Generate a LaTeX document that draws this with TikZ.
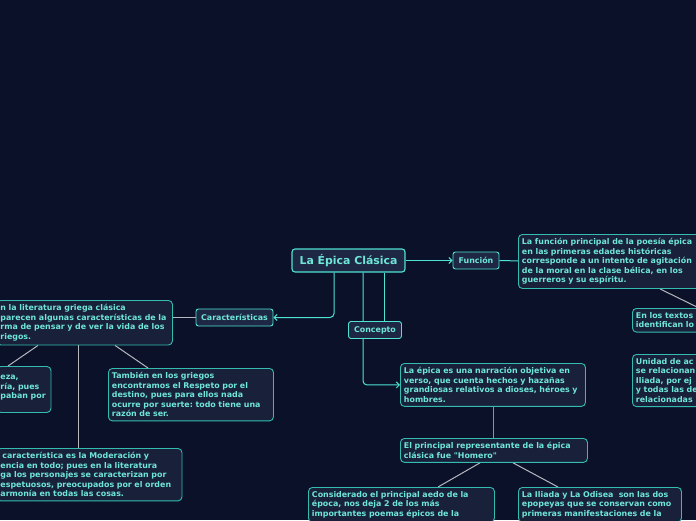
\documentclass[tikz,border=0pt]{standalone}
\usepackage{fontspec}
\usepackage{tikz}
\usetikzlibrary{arrows.meta, positioning, backgrounds}

\newfontfamily\mmfont{DejaVu Sans}
\newcommand{\notefont}{\mmfont\bfseries\fontsize{7.9}{9.5}\selectfont\frenchspacing}
\newcommand{\titlefont}{\mmfont\bfseries\fontsize{10.9}{13}\selectfont}

\definecolor{mmbg}{HTML}{0B1128}
\definecolor{mmfill}{HTML}{18203A}
\definecolor{mmmain}{HTML}{1E2844}
\definecolor{mmtext}{HTML}{6EE6D8}
\definecolor{mmedge}{HTML}{33BCAF}
\definecolor{mmcyan}{HTML}{4FE3D3}
\definecolor{mmgray}{HTML}{B5B8BF}

\begin{document}
\begin{tikzpicture}[
  x=1pt, y=-1pt,
  main/.style={draw=mmcyan, line width=1.1pt, fill=mmmain, rounded corners=3pt,
               text=mmtext, font=\titlefont, minimum width=113pt, minimum height=23pt},
  topic/.style={draw=mmcyan, line width=0.9pt, fill=mmmain, rounded corners=2.5pt,
                text=mmtext, font=\notefont, minimum height=17pt, inner xsep=2pt},
  note/.style={draw=mmedge, line width=0.9pt, fill=mmfill, rounded corners=4pt,
               text=mmtext, font=\notefont, align=left, anchor=north west,
               inner xsep=3.5pt, inner ysep=4pt},
  link/.style={draw=mmcyan, line width=1pt},
  edgeline/.style={draw=mmedge, line width=1pt},
  sublink/.style={draw=mmgray, line width=1pt},
  tip/.style={-{Straight Barb[length=3pt, width=6pt]}}
]
  \useasboundingbox (0,0) rectangle (696,520);

  \node[main] (epica) at (348.5,260.5) {La Épica Clásica};

  \node[topic, minimum width=46pt] (funcion) at (476,260.5) {Función};
  \node[note, text width=178pt] (funtxt) at (518,234)
    {La función principal de la poesía épica\\en las primeras edades históricas\\corresponde a un intento de agitación\\de la moral en la clase bélica, en los\\guerreros y su espíritu.};
  \node[note, text width=80pt] (textos) at (632,308) {En los textos\\identifican lo};
  \node[note, text width=80pt] (unidad) at (632,354)
    {Unidad de ac\\se relacionan\\Iliada, por ej\\y todas las de\\relacionadas};

  \node[topic, minimum width=77pt] (caract) at (234.5,317.5) {Características};
  \node[note, text width=168.5pt] (literatura) at (-3.5,300)
    {n la literatura griega clásica\\parecen algunas características de la\\rma de pensar y de ver la vida de los\\riegos.};
  \node[note, text width=47pt] (ideal) at (-3.5,366) {\mbox{}\\eza,\\ría, pues\\paban por\\\mbox{}};
  \node[note, text width=158pt] (respeto) at (108,368)
    {También en los griegos\\encontramos el Respeto por el\\destino, pues para ellos nada\\ocurre por suerte: todo tiene una\\razón de ser.};
  \node[note, text width=178pt] (moderacion) at (-3.5,448)
    {\hspace{2pt}característica es la Moderación y\\encia en todo; pues en la literatura\\ga los personajes se caracterizan por\\espetuosos, preocupados por el orden\\armonía en todas las cosas.};

  \node[topic, minimum width=53pt] (concepto) at (375,330) {Concepto};
  \node[note, text width=178pt] (epicadef) at (400,363)
    {La épica es una narración objetiva en\\verso, que cuenta hechos y hazañas\\grandiosas relativos a dioses, héroes y\\hombres.};
  \node[note, text width=180pt] (homero) at (400,438)
    {El principal representante de la épica\\clásica fue "Homero"};
  \node[note, text width=179pt] (aedo) at (308,487)
    {Considerado el principal aedo de la\\época, nos deja 2 de los más\\importantes poemas épicos de la};
  \node[note, text width=156pt] (iliada) at (518,487)
    {La Iliada y La Odisea\ \ son las dos\\epopeyas que se conservan como\\primeras manifestaciones de la};

  \begin{scope}[on background layer]
    \fill[mmbg] (0,0) rectangle (696,520);
    \draw[link, tip] (epica) -- (funcion);
    \draw[link] (funcion) -- (funtxt);
    \draw[sublink] ([xshift=142pt]funtxt.south west) -- ([xshift=67pt]textos.north west);
    \draw[link, tip, rounded corners=4pt] ([xshift=-14.5pt]epica.south) |- (caract);
    \draw[link] ([xshift=36pt]epica.south) -- ([xshift=9.5pt]concepto.north);
    \draw[link, tip, rounded corners=4pt] ([xshift=14.5pt]epica.south) |- (epicadef);
    \draw[edgeline] ([xshift=93pt]epicadef.south west) -- ([xshift=93pt]homero.north west);
    \draw[sublink] ([xshift=80pt]homero.south west) -- ([xshift=130pt]aedo.north west);
    \draw[sublink] ([xshift=113pt]homero.south west) -- ([xshift=40pt]iliada.north west);
    \draw[sublink] (caract) -- (caract.west -| literatura.east);
    \draw[sublink] ([xshift=41.5pt]literatura.south west) -- ([xshift=11.5pt]ideal.north west);
    \draw[sublink] ([xshift=81.5pt]literatura.south west) -- ([xshift=81.5pt]moderacion.north west);
    \draw[sublink] ([xshift=118.5pt]literatura.south west) -- ([xshift=40pt]respeto.north west);
  \end{scope}
\end{tikzpicture}
\end{document}
